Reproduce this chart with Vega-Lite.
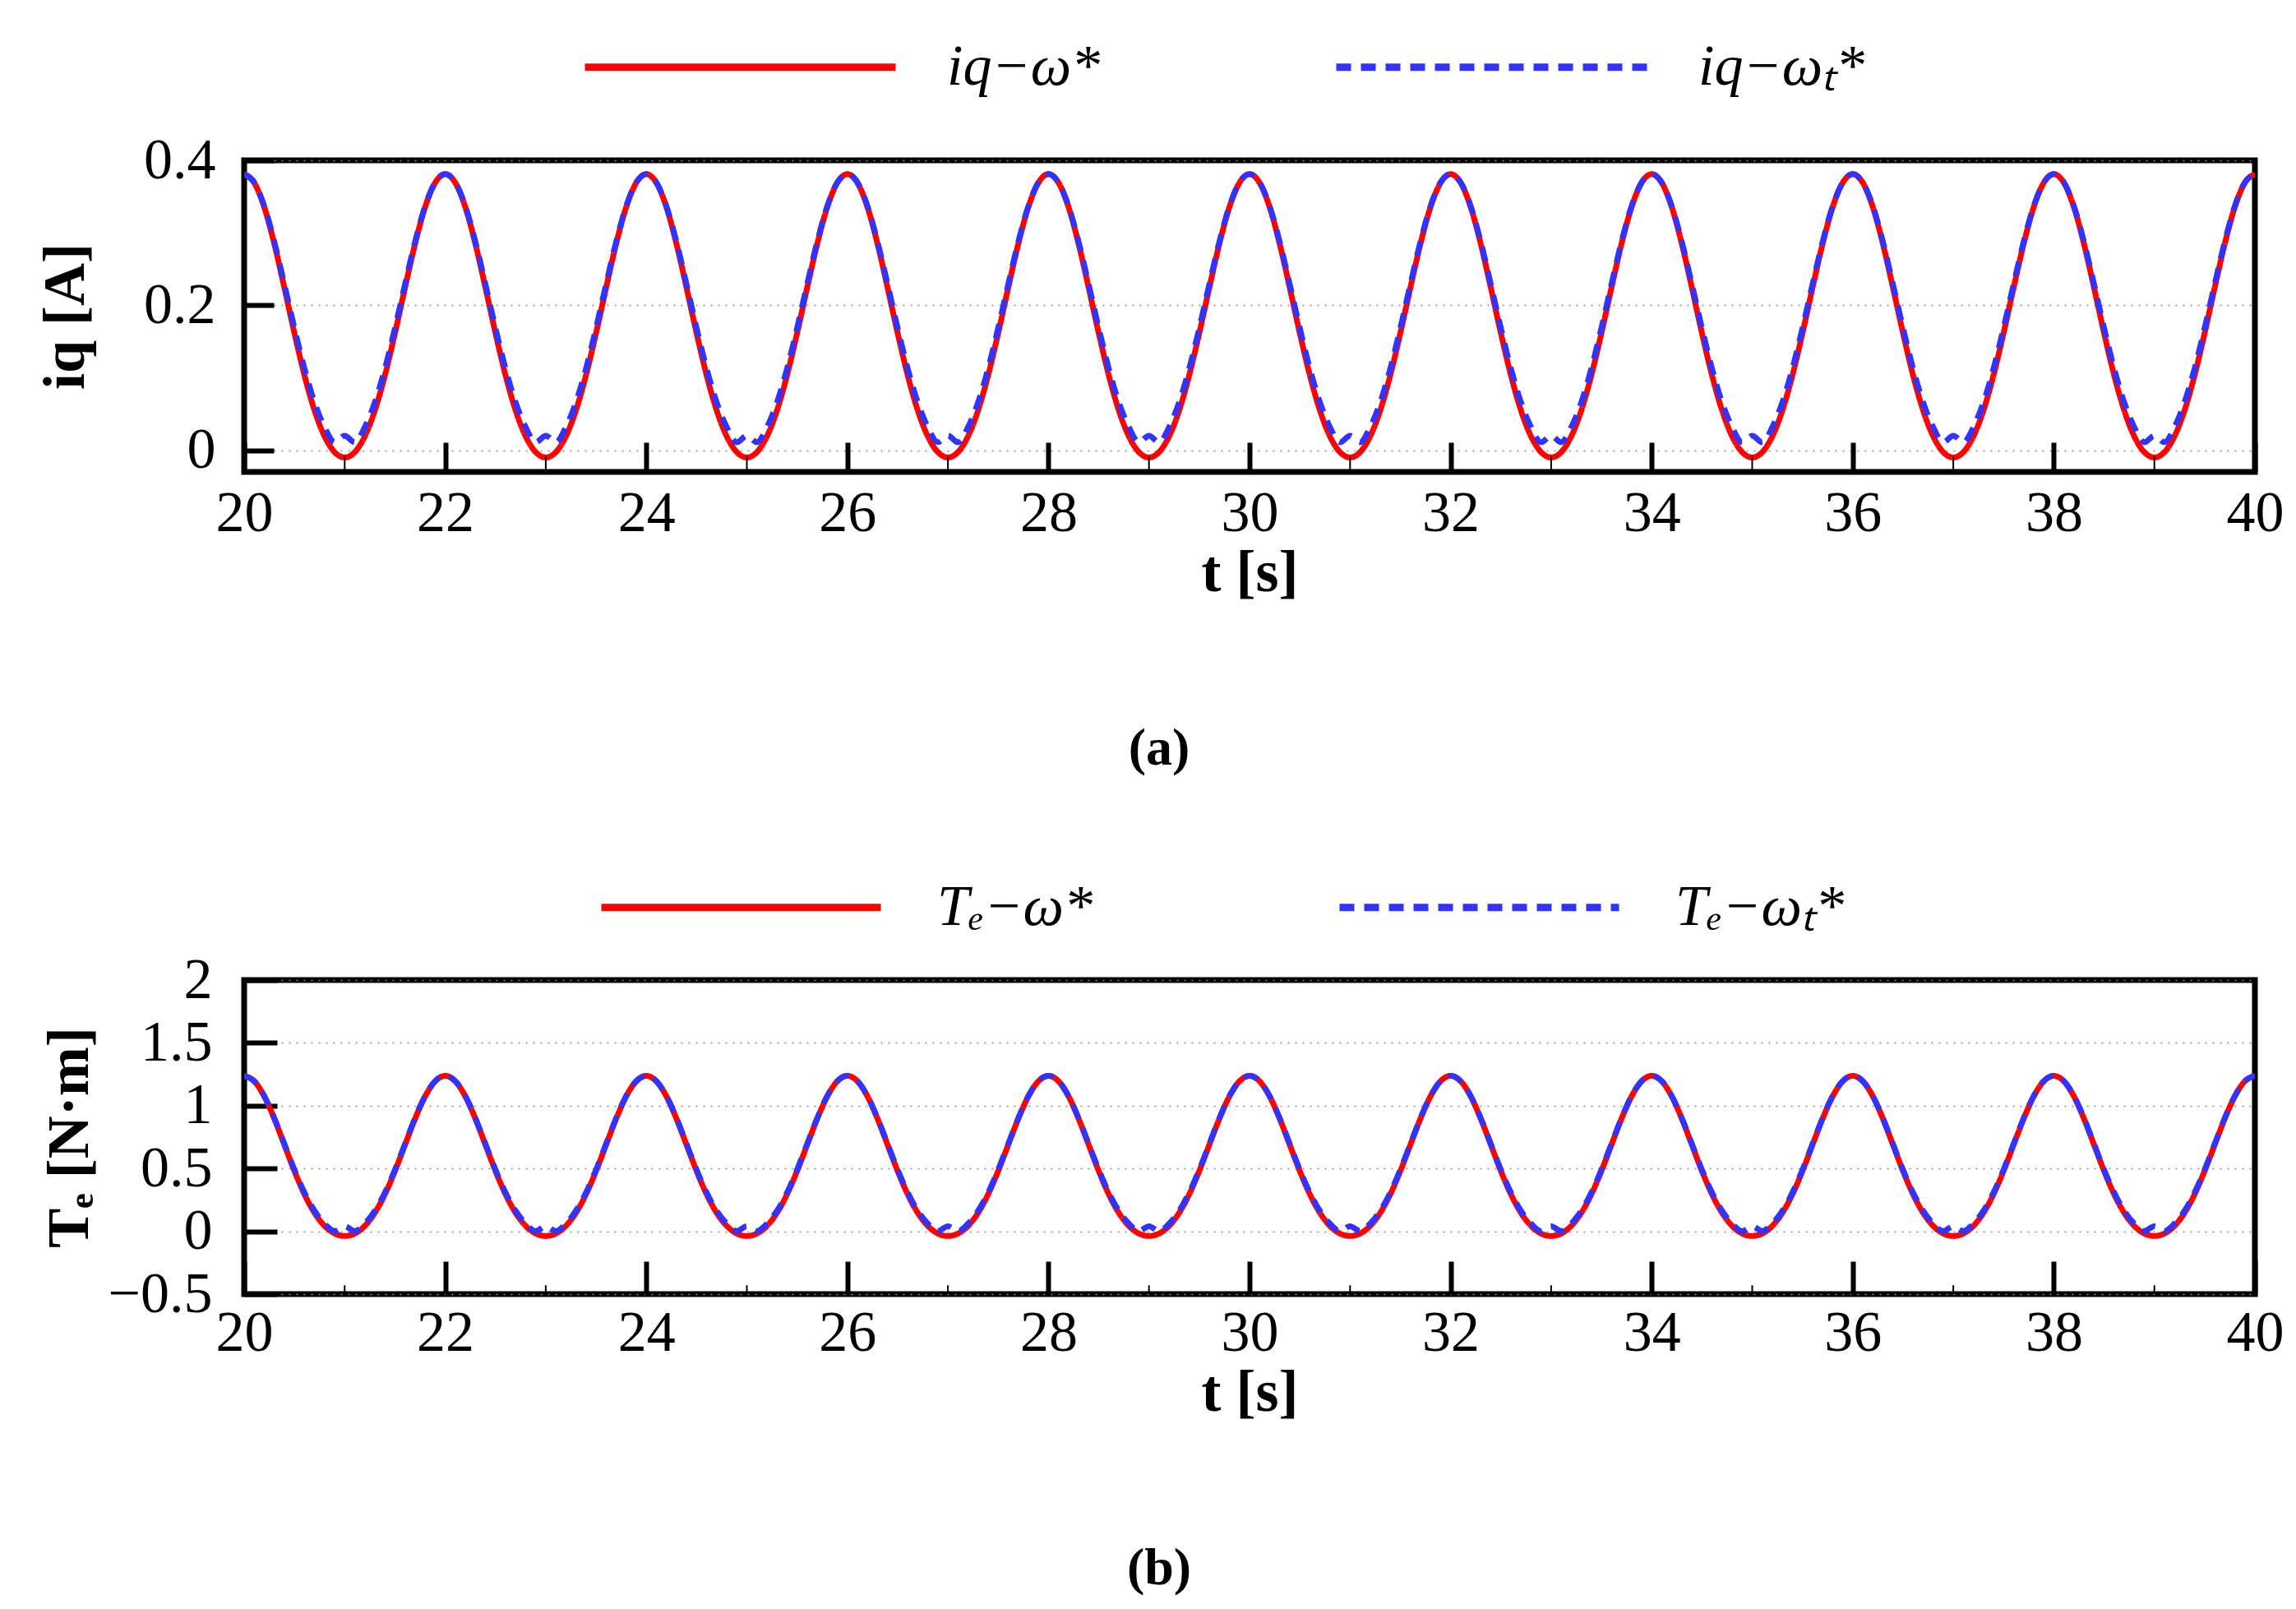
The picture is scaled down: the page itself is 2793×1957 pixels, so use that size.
{
  "$schema": "https://vega.github.io/schema/vega-lite/v6.json",
  "background": "white",
  "padding": {"left": 40, "top": 35, "right": 30, "bottom": 10},
  "datasets": {
    "curves": [
      {"t":20.0,"a":0.381,"b":0.381,"c":1.2375,"d":1.2375},{"t":20.1,"a":0.3691,"b":0.3694,"c":1.1948,"d":1.1953},{"t":20.2,"a":0.3354,"b":0.3367,"c":1.0743,"d":1.0762},{"t":20.3,"a":0.2847,"b":0.2876,"c":0.8962,"d":0.9003},{"t":20.4,"a":0.2242,"b":0.229,"c":0.6885,"d":0.6954},{"t":20.5,"a":0.1615,"b":0.1685,"c":0.48,"d":0.49},{"t":20.6,"a":0.1034,"b":0.1126,"c":0.2945,"d":0.3076},{"t":20.7,"a":0.0549,"b":0.066,"c":0.1468,"d":0.1627},{"t":20.8,"a":0.0191,"b":0.0318,"c":0.0428,"d":0.0609},{"t":20.9,"a":-0.0027,"b":0.011,"c":-0.0178,"d":0.0017},
      {"t":21.0,"a":-0.01,"b":0.02,"c":-0.0375,"d":0.04},{"t":21.1,"a":-0.0027,"b":0.011,"c":-0.0178,"d":0.0017},{"t":21.2,"a":0.0191,"b":0.0318,"c":0.0428,"d":0.0609},{"t":21.3,"a":0.0549,"b":0.066,"c":0.1468,"d":0.1627},{"t":21.4,"a":0.1034,"b":0.1126,"c":0.2945,"d":0.3076},{"t":21.5,"a":0.1615,"b":0.1685,"c":0.48,"d":0.49},{"t":21.6,"a":0.2242,"b":0.229,"c":0.6885,"d":0.6954},{"t":21.7,"a":0.2847,"b":0.2876,"c":0.8962,"d":0.9003},{"t":21.8,"a":0.3354,"b":0.3367,"c":1.0743,"d":1.0762},{"t":21.9,"a":0.3691,"b":0.3694,"c":1.1948,"d":1.1953},
      {"t":22.0,"a":0.381,"b":0.381,"c":1.2375,"d":1.2375},{"t":22.1,"a":0.3691,"b":0.3694,"c":1.1948,"d":1.1953},{"t":22.2,"a":0.3354,"b":0.3367,"c":1.0743,"d":1.0762},{"t":22.3,"a":0.2847,"b":0.2876,"c":0.8962,"d":0.9003},{"t":22.4,"a":0.2242,"b":0.229,"c":0.6885,"d":0.6954},{"t":22.5,"a":0.1615,"b":0.1685,"c":0.48,"d":0.49},{"t":22.6,"a":0.1034,"b":0.1126,"c":0.2945,"d":0.3076},{"t":22.7,"a":0.0549,"b":0.066,"c":0.1468,"d":0.1627},{"t":22.8,"a":0.0191,"b":0.0318,"c":0.0428,"d":0.0609},{"t":22.9,"a":-0.0027,"b":0.011,"c":-0.0178,"d":0.0017},
      {"t":23.0,"a":-0.01,"b":0.02,"c":-0.0375,"d":0.04},{"t":23.1,"a":-0.0027,"b":0.011,"c":-0.0178,"d":0.0017},{"t":23.2,"a":0.0191,"b":0.0318,"c":0.0428,"d":0.0609},{"t":23.3,"a":0.0549,"b":0.066,"c":0.1468,"d":0.1627},{"t":23.4,"a":0.1034,"b":0.1126,"c":0.2945,"d":0.3076},{"t":23.5,"a":0.1615,"b":0.1685,"c":0.48,"d":0.49},{"t":23.6,"a":0.2242,"b":0.229,"c":0.6885,"d":0.6954},{"t":23.7,"a":0.2847,"b":0.2876,"c":0.8962,"d":0.9003},{"t":23.8,"a":0.3354,"b":0.3367,"c":1.0743,"d":1.0762},{"t":23.9,"a":0.3691,"b":0.3694,"c":1.1948,"d":1.1953},
      {"t":24.0,"a":0.381,"b":0.381,"c":1.2375,"d":1.2375},{"t":24.1,"a":0.3691,"b":0.3694,"c":1.1948,"d":1.1953},{"t":24.2,"a":0.3354,"b":0.3367,"c":1.0743,"d":1.0762},{"t":24.3,"a":0.2847,"b":0.2876,"c":0.8962,"d":0.9003},{"t":24.4,"a":0.2242,"b":0.229,"c":0.6885,"d":0.6954},{"t":24.5,"a":0.1615,"b":0.1685,"c":0.48,"d":0.49},{"t":24.6,"a":0.1034,"b":0.1126,"c":0.2945,"d":0.3076},{"t":24.7,"a":0.0549,"b":0.066,"c":0.1468,"d":0.1627},{"t":24.8,"a":0.0191,"b":0.0318,"c":0.0428,"d":0.0609},{"t":24.9,"a":-0.0027,"b":0.011,"c":-0.0178,"d":0.0017},
      {"t":25.0,"a":-0.01,"b":0.02,"c":-0.0375,"d":0.04},{"t":25.1,"a":-0.0027,"b":0.011,"c":-0.0178,"d":0.0017},{"t":25.2,"a":0.0191,"b":0.0318,"c":0.0428,"d":0.0609},{"t":25.3,"a":0.0549,"b":0.066,"c":0.1468,"d":0.1627},{"t":25.4,"a":0.1034,"b":0.1126,"c":0.2945,"d":0.3076},{"t":25.5,"a":0.1615,"b":0.1685,"c":0.48,"d":0.49},{"t":25.6,"a":0.2242,"b":0.229,"c":0.6885,"d":0.6954},{"t":25.7,"a":0.2847,"b":0.2876,"c":0.8962,"d":0.9003},{"t":25.8,"a":0.3354,"b":0.3367,"c":1.0743,"d":1.0762},{"t":25.9,"a":0.3691,"b":0.3694,"c":1.1948,"d":1.1953},
      {"t":26.0,"a":0.381,"b":0.381,"c":1.2375,"d":1.2375},{"t":26.1,"a":0.3691,"b":0.3694,"c":1.1948,"d":1.1953},{"t":26.2,"a":0.3354,"b":0.3367,"c":1.0743,"d":1.0762},{"t":26.3,"a":0.2847,"b":0.2876,"c":0.8962,"d":0.9003},{"t":26.4,"a":0.2242,"b":0.229,"c":0.6885,"d":0.6954},{"t":26.5,"a":0.1615,"b":0.1685,"c":0.48,"d":0.49},{"t":26.6,"a":0.1034,"b":0.1126,"c":0.2945,"d":0.3076},{"t":26.7,"a":0.0549,"b":0.066,"c":0.1468,"d":0.1627},{"t":26.8,"a":0.0191,"b":0.0318,"c":0.0428,"d":0.0609},{"t":26.9,"a":-0.0027,"b":0.011,"c":-0.0178,"d":0.0017},
      {"t":27.0,"a":-0.01,"b":0.02,"c":-0.0375,"d":0.04},{"t":27.1,"a":-0.0027,"b":0.011,"c":-0.0178,"d":0.0017},{"t":27.2,"a":0.0191,"b":0.0318,"c":0.0428,"d":0.0609},{"t":27.3,"a":0.0549,"b":0.066,"c":0.1468,"d":0.1627},{"t":27.4,"a":0.1034,"b":0.1126,"c":0.2945,"d":0.3076},{"t":27.5,"a":0.1615,"b":0.1685,"c":0.48,"d":0.49},{"t":27.6,"a":0.2242,"b":0.229,"c":0.6885,"d":0.6954},{"t":27.7,"a":0.2847,"b":0.2876,"c":0.8962,"d":0.9003},{"t":27.8,"a":0.3354,"b":0.3367,"c":1.0743,"d":1.0762},{"t":27.9,"a":0.3691,"b":0.3694,"c":1.1948,"d":1.1953},
      {"t":28.0,"a":0.381,"b":0.381,"c":1.2375,"d":1.2375},{"t":28.1,"a":0.3691,"b":0.3694,"c":1.1948,"d":1.1953},{"t":28.2,"a":0.3354,"b":0.3367,"c":1.0743,"d":1.0762},{"t":28.3,"a":0.2847,"b":0.2876,"c":0.8962,"d":0.9003},{"t":28.4,"a":0.2242,"b":0.229,"c":0.6885,"d":0.6954},{"t":28.5,"a":0.1615,"b":0.1685,"c":0.48,"d":0.49},{"t":28.6,"a":0.1034,"b":0.1126,"c":0.2945,"d":0.3076},{"t":28.7,"a":0.0549,"b":0.066,"c":0.1468,"d":0.1627},{"t":28.8,"a":0.0191,"b":0.0318,"c":0.0428,"d":0.0609},{"t":28.9,"a":-0.0027,"b":0.011,"c":-0.0178,"d":0.0017},
      {"t":29.0,"a":-0.01,"b":0.02,"c":-0.0375,"d":0.04},{"t":29.1,"a":-0.0027,"b":0.011,"c":-0.0178,"d":0.0017},{"t":29.2,"a":0.0191,"b":0.0318,"c":0.0428,"d":0.0609},{"t":29.3,"a":0.0549,"b":0.066,"c":0.1468,"d":0.1627},{"t":29.4,"a":0.1034,"b":0.1126,"c":0.2945,"d":0.3076},{"t":29.5,"a":0.1615,"b":0.1685,"c":0.48,"d":0.49},{"t":29.6,"a":0.2242,"b":0.229,"c":0.6885,"d":0.6954},{"t":29.7,"a":0.2847,"b":0.2876,"c":0.8962,"d":0.9003},{"t":29.8,"a":0.3354,"b":0.3367,"c":1.0743,"d":1.0762},{"t":29.9,"a":0.3691,"b":0.3694,"c":1.1948,"d":1.1953},
      {"t":30.0,"a":0.381,"b":0.381,"c":1.2375,"d":1.2375},{"t":30.1,"a":0.3691,"b":0.3694,"c":1.1948,"d":1.1953},{"t":30.2,"a":0.3354,"b":0.3367,"c":1.0743,"d":1.0762},{"t":30.3,"a":0.2847,"b":0.2876,"c":0.8962,"d":0.9003},{"t":30.4,"a":0.2242,"b":0.229,"c":0.6885,"d":0.6954},{"t":30.5,"a":0.1615,"b":0.1685,"c":0.48,"d":0.49},{"t":30.6,"a":0.1034,"b":0.1126,"c":0.2945,"d":0.3076},{"t":30.7,"a":0.0549,"b":0.066,"c":0.1468,"d":0.1627},{"t":30.8,"a":0.0191,"b":0.0318,"c":0.0428,"d":0.0609},{"t":30.9,"a":-0.0027,"b":0.011,"c":-0.0178,"d":0.0017},
      {"t":31.0,"a":-0.01,"b":0.02,"c":-0.0375,"d":0.04},{"t":31.1,"a":-0.0027,"b":0.011,"c":-0.0178,"d":0.0017},{"t":31.2,"a":0.0191,"b":0.0318,"c":0.0428,"d":0.0609},{"t":31.3,"a":0.0549,"b":0.066,"c":0.1468,"d":0.1627},{"t":31.4,"a":0.1034,"b":0.1126,"c":0.2945,"d":0.3076},{"t":31.5,"a":0.1615,"b":0.1685,"c":0.48,"d":0.49},{"t":31.6,"a":0.2242,"b":0.229,"c":0.6885,"d":0.6954},{"t":31.7,"a":0.2847,"b":0.2876,"c":0.8962,"d":0.9003},{"t":31.8,"a":0.3354,"b":0.3367,"c":1.0743,"d":1.0762},{"t":31.9,"a":0.3691,"b":0.3694,"c":1.1948,"d":1.1953},
      {"t":32.0,"a":0.381,"b":0.381,"c":1.2375,"d":1.2375},{"t":32.1,"a":0.3691,"b":0.3694,"c":1.1948,"d":1.1953},{"t":32.2,"a":0.3354,"b":0.3367,"c":1.0743,"d":1.0762},{"t":32.3,"a":0.2847,"b":0.2876,"c":0.8962,"d":0.9003},{"t":32.4,"a":0.2242,"b":0.229,"c":0.6885,"d":0.6954},{"t":32.5,"a":0.1615,"b":0.1685,"c":0.48,"d":0.49},{"t":32.6,"a":0.1034,"b":0.1126,"c":0.2945,"d":0.3076},{"t":32.7,"a":0.0549,"b":0.066,"c":0.1468,"d":0.1627},{"t":32.8,"a":0.0191,"b":0.0318,"c":0.0428,"d":0.0609},{"t":32.9,"a":-0.0027,"b":0.011,"c":-0.0178,"d":0.0017},
      {"t":33.0,"a":-0.01,"b":0.02,"c":-0.0375,"d":0.04},{"t":33.1,"a":-0.0027,"b":0.011,"c":-0.0178,"d":0.0017},{"t":33.2,"a":0.0191,"b":0.0318,"c":0.0428,"d":0.0609},{"t":33.3,"a":0.0549,"b":0.066,"c":0.1468,"d":0.1627},{"t":33.4,"a":0.1034,"b":0.1126,"c":0.2945,"d":0.3076},{"t":33.5,"a":0.1615,"b":0.1685,"c":0.48,"d":0.49},{"t":33.6,"a":0.2242,"b":0.229,"c":0.6885,"d":0.6954},{"t":33.7,"a":0.2847,"b":0.2876,"c":0.8962,"d":0.9003},{"t":33.8,"a":0.3354,"b":0.3367,"c":1.0743,"d":1.0762},{"t":33.9,"a":0.3691,"b":0.3694,"c":1.1948,"d":1.1953},
      {"t":34.0,"a":0.381,"b":0.381,"c":1.2375,"d":1.2375},{"t":34.1,"a":0.3691,"b":0.3694,"c":1.1948,"d":1.1953},{"t":34.2,"a":0.3354,"b":0.3367,"c":1.0743,"d":1.0762},{"t":34.3,"a":0.2847,"b":0.2876,"c":0.8962,"d":0.9003},{"t":34.4,"a":0.2242,"b":0.229,"c":0.6885,"d":0.6954},{"t":34.5,"a":0.1615,"b":0.1685,"c":0.48,"d":0.49},{"t":34.6,"a":0.1034,"b":0.1126,"c":0.2945,"d":0.3076},{"t":34.7,"a":0.0549,"b":0.066,"c":0.1468,"d":0.1627},{"t":34.8,"a":0.0191,"b":0.0318,"c":0.0428,"d":0.0609},{"t":34.9,"a":-0.0027,"b":0.011,"c":-0.0178,"d":0.0017},
      {"t":35.0,"a":-0.01,"b":0.02,"c":-0.0375,"d":0.04},{"t":35.1,"a":-0.0027,"b":0.011,"c":-0.0178,"d":0.0017},{"t":35.2,"a":0.0191,"b":0.0318,"c":0.0428,"d":0.0609},{"t":35.3,"a":0.0549,"b":0.066,"c":0.1468,"d":0.1627},{"t":35.4,"a":0.1034,"b":0.1126,"c":0.2945,"d":0.3076},{"t":35.5,"a":0.1615,"b":0.1685,"c":0.48,"d":0.49},{"t":35.6,"a":0.2242,"b":0.229,"c":0.6885,"d":0.6954},{"t":35.7,"a":0.2847,"b":0.2876,"c":0.8962,"d":0.9003},{"t":35.8,"a":0.3354,"b":0.3367,"c":1.0743,"d":1.0762},{"t":35.9,"a":0.3691,"b":0.3694,"c":1.1948,"d":1.1953},
      {"t":36.0,"a":0.381,"b":0.381,"c":1.2375,"d":1.2375},{"t":36.1,"a":0.3691,"b":0.3694,"c":1.1948,"d":1.1953},{"t":36.2,"a":0.3354,"b":0.3367,"c":1.0743,"d":1.0762},{"t":36.3,"a":0.2847,"b":0.2876,"c":0.8962,"d":0.9003},{"t":36.4,"a":0.2242,"b":0.229,"c":0.6885,"d":0.6954},{"t":36.5,"a":0.1615,"b":0.1685,"c":0.48,"d":0.49},{"t":36.6,"a":0.1034,"b":0.1126,"c":0.2945,"d":0.3076},{"t":36.7,"a":0.0549,"b":0.066,"c":0.1468,"d":0.1627},{"t":36.8,"a":0.0191,"b":0.0318,"c":0.0428,"d":0.0609},{"t":36.9,"a":-0.0027,"b":0.011,"c":-0.0178,"d":0.0017},
      {"t":37.0,"a":-0.01,"b":0.02,"c":-0.0375,"d":0.04},{"t":37.1,"a":-0.0027,"b":0.011,"c":-0.0178,"d":0.0017},{"t":37.2,"a":0.0191,"b":0.0318,"c":0.0428,"d":0.0609},{"t":37.3,"a":0.0549,"b":0.066,"c":0.1468,"d":0.1627},{"t":37.4,"a":0.1034,"b":0.1126,"c":0.2945,"d":0.3076},{"t":37.5,"a":0.1615,"b":0.1685,"c":0.48,"d":0.49},{"t":37.6,"a":0.2242,"b":0.229,"c":0.6885,"d":0.6954},{"t":37.7,"a":0.2847,"b":0.2876,"c":0.8962,"d":0.9003},{"t":37.8,"a":0.3354,"b":0.3367,"c":1.0743,"d":1.0762},{"t":37.9,"a":0.3691,"b":0.3694,"c":1.1948,"d":1.1953},
      {"t":38.0,"a":0.381,"b":0.381,"c":1.2375,"d":1.2375},{"t":38.1,"a":0.3691,"b":0.3694,"c":1.1948,"d":1.1953},{"t":38.2,"a":0.3354,"b":0.3367,"c":1.0743,"d":1.0762},{"t":38.3,"a":0.2847,"b":0.2876,"c":0.8962,"d":0.9003},{"t":38.4,"a":0.2242,"b":0.229,"c":0.6885,"d":0.6954},{"t":38.5,"a":0.1615,"b":0.1685,"c":0.48,"d":0.49},{"t":38.6,"a":0.1034,"b":0.1126,"c":0.2945,"d":0.3076},{"t":38.7,"a":0.0549,"b":0.066,"c":0.1468,"d":0.1627},{"t":38.8,"a":0.0191,"b":0.0318,"c":0.0428,"d":0.0609},{"t":38.9,"a":-0.0027,"b":0.011,"c":-0.0178,"d":0.0017},
      {"t":39.0,"a":-0.01,"b":0.02,"c":-0.0375,"d":0.04},{"t":39.1,"a":-0.0027,"b":0.011,"c":-0.0178,"d":0.0017},{"t":39.2,"a":0.0191,"b":0.0318,"c":0.0428,"d":0.0609},{"t":39.3,"a":0.0549,"b":0.066,"c":0.1468,"d":0.1627},{"t":39.4,"a":0.1034,"b":0.1126,"c":0.2945,"d":0.3076},{"t":39.5,"a":0.1615,"b":0.1685,"c":0.48,"d":0.49},{"t":39.6,"a":0.2242,"b":0.229,"c":0.6885,"d":0.6954},{"t":39.7,"a":0.2847,"b":0.2876,"c":0.8962,"d":0.9003},{"t":39.8,"a":0.3354,"b":0.3367,"c":1.0743,"d":1.0762},{"t":39.9,"a":0.3691,"b":0.3694,"c":1.1948,"d":1.1953},
      {"t":40.0,"a":0.381,"b":0.381,"c":1.2375,"d":1.2375}
    ],
    "minorA": [
      {"t":21,"lo":-0.03,"hi":-0.009},{"t":23,"lo":-0.03,"hi":-0.009},{"t":25,"lo":-0.03,"hi":-0.009},{"t":27,"lo":-0.03,"hi":-0.009},{"t":29,"lo":-0.03,"hi":-0.009},
      {"t":31,"lo":-0.03,"hi":-0.009},{"t":33,"lo":-0.03,"hi":-0.009},{"t":35,"lo":-0.03,"hi":-0.009},{"t":37,"lo":-0.03,"hi":-0.009},{"t":39,"lo":-0.03,"hi":-0.009}
    ],
    "minorB": [
      {"t":21,"lo":-0.5,"hi":-0.43},{"t":23,"lo":-0.5,"hi":-0.43},{"t":25,"lo":-0.5,"hi":-0.43},{"t":27,"lo":-0.5,"hi":-0.43},{"t":29,"lo":-0.5,"hi":-0.43},
      {"t":31,"lo":-0.5,"hi":-0.43},{"t":33,"lo":-0.5,"hi":-0.43},{"t":35,"lo":-0.5,"hi":-0.43},{"t":37,"lo":-0.5,"hi":-0.43},{"t":39,"lo":-0.5,"hi":-0.43}
    ]
  },
  "config": {
    "font": "Liberation Serif",
    "view": {"stroke": "black", "strokeWidth": 7},
    "axis": {
      "labelFont": "Liberation Serif",
      "labelFontSize": 70,
      "labelColor": "black",
      "titleFont": "Liberation Serif",
      "titleFontSize": 72,
      "titleFontWeight": "bold",
      "titleColor": "black",
      "domain": false,
      "tickColor": "black",
      "tickWidth": 6,
      "gridColor": "#8c8c8c",
      "gridDash": [2, 7],
      "gridWidth": 1.5,
      "labelOverlap": false,
      "labelFlush": false
    },
    "legend": {
      "labelFont": "Liberation Serif",
      "labelFontSize": 70,
      "labelFontStyle": "italic",
      "labelColor": "black",
      "labelLimit": 0
    }
  },
  "spacing": 618,
  "bounds": "flush",
  "resolve": {
    "scale": {"x": "independent", "y": "independent", "color": "independent", "strokeDash": "independent"},
    "legend": {"color": "independent", "strokeDash": "independent"}
  },
  "vconcat": [
    {
      "width": 2446,
      "height": 379,
      "title": {"text": "(a)", "orient": "bottom", "anchor": "middle", "dx": -110, "offset": 147, "fontSize": 64, "fontWeight": "bold", "font": "Liberation Serif", "color": "black"},
      "layer": [
        {
          "data": {"name": "curves"},
          "transform": [{"fold": ["a", "b"], "as": ["series", "value"]}],
          "mark": {"type": "line", "strokeWidth": 7, "interpolate": "monotone", "clip": true},
          "encoding": {
            "x": {"field": "t", "type": "quantitative", "scale": {"domain": [20, 40], "nice": false, "zero": false},
                  "axis": {"values": [20, 22, 24, 26, 28, 30, 32, 34, 36, 38, 40], "format": "d", "title": "t [s]", "grid": false, "tickSize": -36, "labelPadding": 52, "titlePadding": 2}},
            "y": {"field": "value", "type": "quantitative", "scale": {"domain": [-0.03, 0.4], "nice": false, "zero": false},
                  "axis": {"values": [0, 0.2, 0.4], "format": "~g", "title": "iq [A]", "grid": true, "tickSize": -36, "labelPadding": 71, "titlePadding": 58}},
            "color": {"field": "series", "type": "nominal", "sort": ["a", "b"],
                      "scale": {"domain": ["a", "b"], "range": ["#ff0000", "#3333ff"]},
                      "legend": {"orient": "none", "legendX": 561, "legendY": -156, "direction": "horizontal", "title": null, "symbolType": "M-5,0H5", "symbolSize": 5715, "symbolStrokeWidth": 9, "labelOffset": 209, "columnPadding": 268, "labelExpr": "datum.label == 'a' ? 'iq−ω*' : 'iq−ωₜ*'"}},
            "strokeDash": {"field": "series", "type": "nominal", "sort": ["a", "b"],
                      "scale": {"domain": ["a", "b"], "range": [[1, 0], [18, 12]]},
                      "legend": {"orient": "none", "legendX": 561, "legendY": -156, "direction": "horizontal", "title": null, "symbolType": "M-5,0H5", "symbolSize": 5715, "symbolStrokeWidth": 9, "labelOffset": 209, "columnPadding": 268, "labelExpr": "datum.label == 'a' ? 'iq−ω*' : 'iq−ωₜ*'"}}
          }
        },
        {
          "data": {"name": "minorA"},
          "mark": {"type": "rule", "strokeWidth": 2, "color": "black"},
          "encoding": {
            "x": {"field": "t", "type": "quantitative"},
            "y": {"field": "lo", "type": "quantitative"},
            "y2": {"field": "hi"}
          }
        }
      ]
    },
    {
      "width": 2446,
      "height": 382,
      "title": {"text": "(b)", "orient": "bottom", "anchor": "middle", "dx": -110, "offset": 147, "fontSize": 64, "fontWeight": "bold", "font": "Liberation Serif", "color": "black"},
      "layer": [
        {
          "data": {"name": "curves"},
          "transform": [{"fold": ["c", "d"], "as": ["series", "value"]}],
          "mark": {"type": "line", "strokeWidth": 7, "interpolate": "monotone", "clip": true},
          "encoding": {
            "x": {"field": "t", "type": "quantitative", "scale": {"domain": [20, 40], "nice": false, "zero": false},
                  "axis": {"values": [20, 22, 24, 26, 28, 30, 32, 34, 36, 38, 40], "format": "d", "title": "t [s]", "grid": false, "tickSize": -40, "labelPadding": 53, "titlePadding": 2}},
            "y": {"field": "value", "type": "quantitative", "scale": {"domain": [-0.5, 2], "nice": false, "zero": false},
                  "axis": {"values": [-0.5, 0, 0.5, 1, 1.5, 2], "format": "~g", "title": "Tₑ [N·m]", "grid": true, "tickSize": -40, "labelPadding": 79, "titlePadding": 10}},
            "color": {"field": "series", "type": "nominal", "sort": ["c", "d"],
                      "scale": {"domain": ["c", "d"], "range": ["#ff0000", "#3333ff"]},
                      "legend": {"orient": "none", "legendX": 566, "legendY": -127, "direction": "horizontal", "title": null, "symbolType": "M-5,0H5", "symbolSize": 4624, "symbolStrokeWidth": 9, "labelOffset": 200, "columnPadding": 282, "labelExpr": "datum.label == 'c' ? 'Tₑ−ω*' : 'Tₑ−ωₜ*'"}},
            "strokeDash": {"field": "series", "type": "nominal", "sort": ["c", "d"],
                      "scale": {"domain": ["c", "d"], "range": [[1, 0], [18, 12]]},
                      "legend": {"orient": "none", "legendX": 566, "legendY": -127, "direction": "horizontal", "title": null, "symbolType": "M-5,0H5", "symbolSize": 4624, "symbolStrokeWidth": 9, "labelOffset": 200, "columnPadding": 282, "labelExpr": "datum.label == 'c' ? 'Tₑ−ω*' : 'Tₑ−ωₜ*'"}}
          }
        },
        {
          "data": {"name": "minorB"},
          "mark": {"type": "rule", "strokeWidth": 2, "color": "black"},
          "encoding": {
            "x": {"field": "t", "type": "quantitative"},
            "y": {"field": "lo", "type": "quantitative"},
            "y2": {"field": "hi"}
          }
        }
      ]
    }
  ]
}
